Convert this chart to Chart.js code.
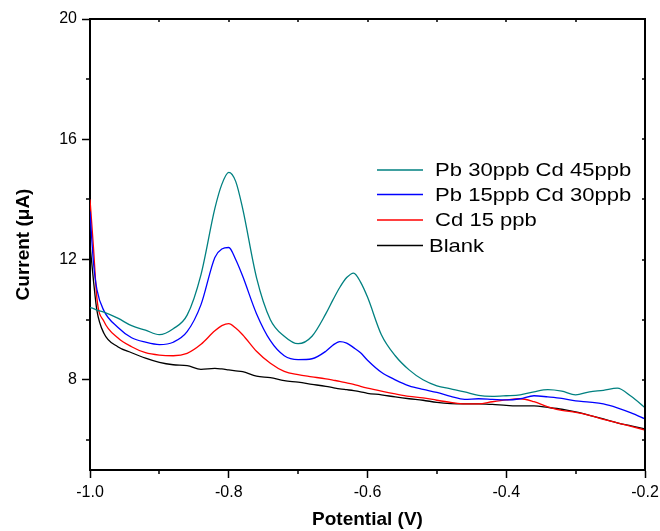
<!DOCTYPE html>
<html>
<head>
<meta charset="utf-8">
<script src="https://cdn.jsdelivr.net/npm/chart.js@4.4.0/dist/chart.umd.min.js"></script>
<style>
  body { margin: 0; background: #fff; }
  #wrap { width: 660px; height: 531px; }
</style>
</head>
<body>
<div id="wrap"><canvas id="swvChart" width="660" height="531"></canvas></div>
<script>
// Potensial (V)
const potential = [-1.0, -0.995, -0.99, -0.98, -0.96, -0.94, -0.92, -0.90, -0.88, -0.86, -0.84, -0.82,
    -0.81, -0.80, -0.79, -0.78, -0.76, -0.74, -0.72, -0.70, -0.68, -0.66, -0.65, -0.64, -0.63,
    -0.62, -0.61, -0.60, -0.58, -0.56, -0.54, -0.52, -0.50, -0.48, -0.46, -0.44, -0.42, -0.40,
    -0.38, -0.36, -0.34, -0.32, -0.30, -0.28, -0.26, -0.24, -0.22, -0.20];

// Arus (uA) tiap larutan
const pb30cd45 = [10.4, 10.37, 10.32, 10.25, 10.05, 9.8, 9.65, 9.5, 9.7, 10.15, 11.5, 13.7,
    14.5, 14.9, 14.6, 13.7, 11.4, 10.0, 9.45, 9.2, 9.45, 10.2, 10.65, 11.07, 11.4,
    11.55, 11.25, 10.75, 9.5, 8.8, 8.33, 8.0, 7.8, 7.7, 7.6, 7.48, 7.45, 7.47,
    7.5, 7.6, 7.67, 7.62, 7.5, 7.6, 7.65, 7.72, 7.45, 7.07];
const pb15cd30 = [13.6, 11.9, 11.0, 10.3, 9.75, 9.4, 9.25, 9.17, 9.25, 9.6, 10.5, 12.07,
    12.35, 12.4, 12.0, 11.45, 10.2, 9.3, 8.8, 8.67, 8.7, 8.95, 9.15, 9.27, 9.22,
    9.07, 8.9, 8.65, 8.25, 8.0, 7.8, 7.68, 7.58, 7.45, 7.35, 7.37, 7.35, 7.33,
    7.37, 7.47, 7.43, 7.38, 7.3, 7.26, 7.2, 7.07, 6.9, 6.7];
const cd15 = [14.0, 12.4, 10.7, 9.95, 9.4, 9.1, 8.9, 8.82, 8.8, 8.88, 9.18, 9.63,
    9.8, 9.87, 9.72, 9.5, 8.95, 8.55, 8.28, 8.17, 8.1, 8.03, 7.99, 7.95, 7.9,
    7.85, 7.78, 7.72, 7.62, 7.53, 7.45, 7.4, 7.32, 7.25, 7.2, 7.2, 7.27, 7.33,
    7.37, 7.27, 7.1, 6.98, 6.92, 6.82, 6.68, 6.57, 6.45, 6.33];
const blank = [12.5, 11.3, 10.3, 9.55, 9.1, 8.9, 8.72, 8.58, 8.5, 8.47, 8.35, 8.38,
    8.36, 8.33, 8.3, 8.27, 8.12, 8.07, 7.97, 7.92, 7.85, 7.78, 7.74, 7.7, 7.67,
    7.64, 7.6, 7.55, 7.5, 7.43, 7.37, 7.32, 7.25, 7.21, 7.2, 7.2, 7.18, 7.15,
    7.13, 7.13, 7.08, 7.02, 6.93, 6.82, 6.7, 6.57, 6.47, 6.37];

const seriesLabels = [' Pb 30ppb Cd 45ppb', ' Pb 15ppb Cd 30ppb', ' Cd 15 ppb', 'Blank'];
const seriesColors = ['#008080', '#0000ff', '#ff0000', '#000000'];

// Tick sumbu
const xTicks = [-1.0, -0.9, -0.8, -0.7, -0.6, -0.5, -0.4, -0.3, -0.2];
const xLabels = ['-1.0', '', '-0.8', '', '-0.6', '', '-0.4', '', '-0.2'];
const yTicks = [6, 8, 10, 12, 14, 16, 18, 20];
const yLabels = ['', '8', '', '12', '', '16', '', '20'];

function toPoints(values) {
    return potential.map((p, i) => ({ x: p, y: values[i] }));
}

const allSeries = [pb30cd45, pb15cd30, cd15, blank];
const datasets = allSeries.map((s, i) => ({
    label: seriesLabels[i],
    data: toPoints(s),
    borderColor: seriesColors[i],
    backgroundColor: seriesColors[i],
    borderWidth: 1.3,
    pointRadius: 0,
    cubicInterpolationMode: 'monotone',
    fill: false
}));

function isMajorX(v) { return xLabels[xTicks.indexOf(v)] !== ''; }
function isMajorY(v) { return yLabels[yTicks.indexOf(v)] !== ''; }

// Kotak, tick minor dan legenda
const framePlugin = {
    id: 'frame',
    afterDraw(chart) {
        const c = chart.ctx;
        const a = chart.chartArea;
        const xs = chart.scales.x;
        const ys = chart.scales.y;
        c.save();
        c.strokeStyle = '#000';
        c.lineWidth = 2;
        c.beginPath();
        c.moveTo(a.left, a.top); c.lineTo(a.right, a.top); c.lineTo(a.right, a.bottom);
        c.stroke();

        c.lineWidth = 1.5;
        c.beginPath();
        xTicks.forEach(v => {
            const px = Math.round(xs.getPixelForValue(v));
            if (!isMajorX(v)) { c.moveTo(px, a.bottom); c.lineTo(px, a.bottom + 4); }
            c.moveTo(px, a.top); c.lineTo(px, a.top + 3);
        });
        yTicks.forEach(v => {
            const py = Math.round(ys.getPixelForValue(v));
            if (!isMajorY(v)) { c.moveTo(a.left, py); c.lineTo(a.left - 4, py); }
            c.moveTo(a.right, py); c.lineTo(a.right - 3, py);
        });
        c.stroke();

        // legenda
        const rowY = [170, 194.5, 220, 245.5];
        chart.data.datasets.forEach((ds, i) => {
            c.strokeStyle = ds.borderColor;
            c.lineWidth = 1.3;
            c.beginPath();
            c.moveTo(377, rowY[i]); c.lineTo(423, rowY[i]);
            c.stroke();
            c.save();
            c.translate(429, rowY[i]);
            c.scale(1.16, 1);
            c.fillStyle = '#000';
            c.font = '19px "Liberation Sans", Arial, sans-serif';
            c.textBaseline = 'middle';
            c.fillText(ds.label, 0, 1);
            c.restore();
        });
        c.restore();
    }
};

const config = {
    type: 'line',
    data: { datasets: datasets },
    options: {
        responsive: false,
        animation: false,
        layout: { padding: { top: 19, right: 15, left: 0, bottom: 0 } },
        plugins: { legend: { display: false }, tooltip: { enabled: false } },
        scales: {
            x: {
                type: 'linear',
                min: -1.0,
                max: -0.2,
                afterFit(scale) {
                    scale.height = 61;
                    scale.paddingLeft = 0;
                    scale.paddingRight = 0;
                },
                afterBuildTicks(scale) { scale.ticks = xTicks.map(v => ({ value: v })); },
                border: { display: true, color: '#000', width: 2 },
                grid: {
                    drawOnChartArea: false,
                    tickLength: 8,
                    tickWidth: 1.5,
                    tickColor: ctx => (ctx.tick && isMajorX(ctx.tick.value)) ? '#000' : 'rgba(0,0,0,0)'
                },
                ticks: {
                    color: '#000',
                    padding: 5,
                    maxRotation: 0,
                    autoSkip: false,
                    font: { family: '"Liberation Sans", Arial, sans-serif', size: 16 },
                    callback: (v) => xLabels[xTicks.indexOf(v)] ?? ''
                },
                title: {
                    display: true,
                    text: 'Potential (V)',
                    color: '#000',
                    padding: { top: 0, bottom: 0 },
                    font: { family: '"Liberation Sans", Arial, sans-serif', size: 19, weight: 'bold' }
                }
            },
            y: {
                type: 'linear',
                min: 5,
                max: 20,
                afterFit(scale) { scale.width = 90; },
                afterBuildTicks(scale) { scale.ticks = yTicks.map(v => ({ value: v })); },
                border: { display: true, color: '#000', width: 2 },
                grid: {
                    drawOnChartArea: false,
                    tickLength: 8,
                    tickWidth: 1.5,
                    tickColor: ctx => (ctx.tick && isMajorY(ctx.tick.value)) ? '#000' : 'rgba(0,0,0,0)'
                },
                ticks: {
                    color: '#000',
                    padding: 5,
                    autoSkip: false,
                    font: { family: '"Liberation Sans", Arial, sans-serif', size: 16 },
                    callback: (v) => yLabels[yTicks.indexOf(v)] ?? ''
                },
                title: {
                    display: true,
                    text: 'Current (μA)',
                    color: '#000',
                    padding: { top: 12, bottom: 0 },
                    font: { family: '"Liberation Sans", Arial, sans-serif', size: 19, weight: 'bold' }
                }
            }
        }
    },
    plugins: [framePlugin]
};

const ctx = document.getElementById('swvChart').getContext('2d');
new Chart(ctx, config);
</script>
</body>
</html>
